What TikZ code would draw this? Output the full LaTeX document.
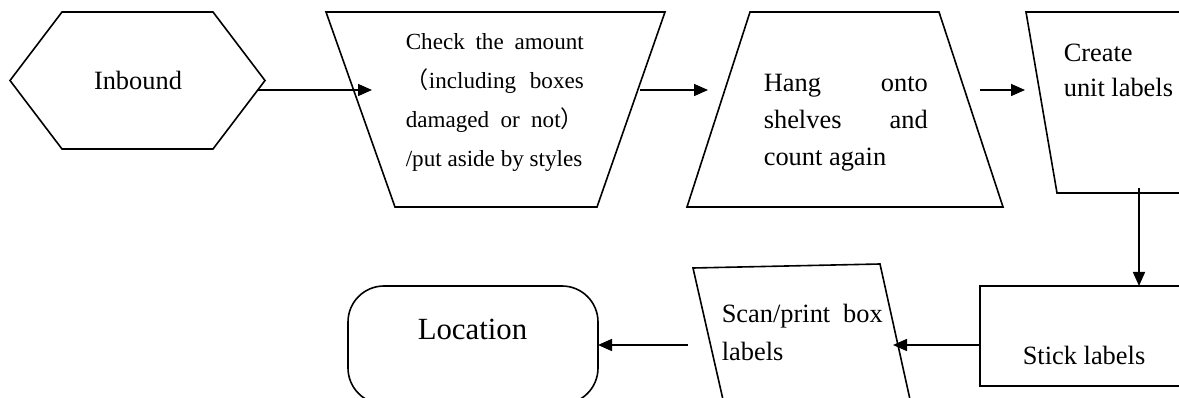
\documentclass[tikz,border=0pt]{standalone}
\usepackage{fontspec}
\setmainfont{Liberation Serif}
\newfontfamily\cjk{Noto Sans CJK SC}
\usetikzlibrary{arrows.meta}
\newcommand\smalltxt{\fontsize{23.1pt}{39pt}\selectfont}
\newcommand\midtxt{\fontsize{26.4pt}{37pt}\selectfont}
\newcommand\bigtxt{\fontsize{30.8pt}{40pt}\selectfont}

\begin{document}
\begin{tikzpicture}[x=1pt, y=-1pt, line width=1.6pt,
    shapebox/.style={draw, inner sep=0pt, outer sep=0pt},
    txt/.style={inner sep=0pt, anchor=base west, font=\midtxt},
    flow/.style={-{Triangle[length=14pt, width=12pt]}}]
  \useasboundingbox (0,0) rectangle (1179,398);
  \clip (0,0) rectangle (1179,398);

  % Top row
  \draw (10,80.5) -- (62,12) -- (213,12) -- (265,80.5) -- (213,149) -- (62,149) -- cycle;
  \node[inner sep=0pt, anchor=base, font=\midtxt] (inbound) at (138,90) {Inbound};

  \draw (326,12) -- (665,12) -- (597,207) -- (395,207) -- cycle;
  \node[txt] (check) at (405,50) {\parbox[t]{178pt}{\smalltxt
    \makebox[\linewidth][s]{Check the amount}\\
    \makebox[\linewidth][s]{{\cjk （}including boxes}\\
    \makebox[\linewidth][s]{damaged or not{\cjk ）}}\\
    /put aside by styles}};

  \draw (750,12) -- (939,12) -- (1003,207) -- (687,207) -- cycle;
  \node[txt] (hang) at (763,92) {\parbox[t]{164pt}{\midtxt
    \makebox[\linewidth][s]{Hang onto}\\
    \makebox[\linewidth][s]{shelves and}\\
    count again}};

  \draw (1200,12) -- (1026,12) -- (1057,193) -- (1200,193);
  \node[txt] (create) at (1063,62) {\parbox[t]{120pt}{\fontsize{26.4pt}{35pt}\selectfont
    Create\\unit labels}};

  % Bottom row
  \node[shapebox, rectangle, minimum width=240pt, minimum height=100pt] (stick) at (1100,336) {};
  \node[txt] (stick-txt) at (1022,364) {Stick labels};

  \draw (724,404) -- (693,268) -- (880,264) -- (911,404);
  \node[txt] (scan) at (721,323) {\parbox[t]{161pt}{\fontsize{26.4pt}{38pt}\selectfont
    \makebox[\linewidth][s]{Scan/print box}\\
    labels}};

  \node[shapebox, rectangle, rounded corners=36pt, minimum width=250pt, minimum height=118pt] (location) at (473,345) {};
  \node[inner sep=0pt, anchor=base, font=\bigtxt] (location-txt) at (472.5,340) {Location};

  % Connectors
  \coordinate (inbound-out) at (258,90);
  \coordinate (check-in) at (372,90);
  \coordinate (check-out) at (640,90);
  \coordinate (hang-in) at (708,90);
  \coordinate (hang-out) at (980,90);
  \coordinate (create-in) at (1025,90);
  \coordinate (create-out) at (1139,188);
  \coordinate (scan-in) at (893,345);
  \coordinate (scan-out) at (688,345);
  \draw[flow] (inbound-out) -- (check-in);
  \draw[flow] (check-out) -- (hang-in);
  \draw[flow] (hang-out) -- (create-in);
  \draw[flow] (create-out) -- (create-out |- stick.north);
  \draw[flow] (scan-in -| stick.west) -- (scan-in);
  \draw[flow] (scan-out) -- (location.east);
\end{tikzpicture}
\end{document}
